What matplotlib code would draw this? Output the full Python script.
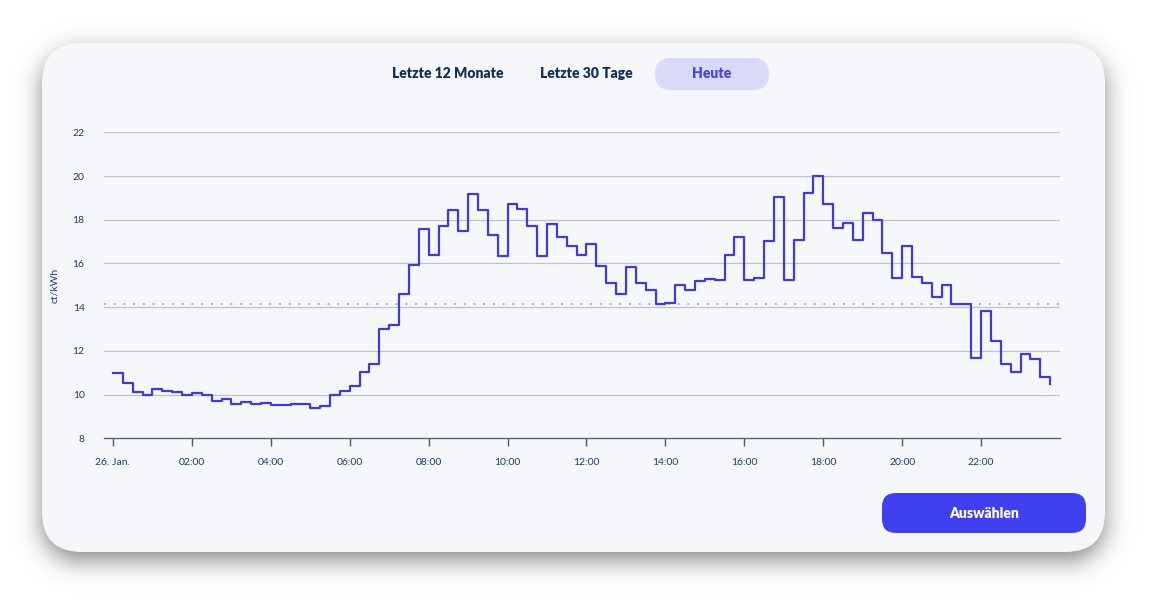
import matplotlib
matplotlib.use('Agg')
import matplotlib.pyplot as plt
from matplotlib.patches import FancyBboxPatch
import numpy as np

plt.rcParams['font.family'] = ['Lato', 'DejaVu Sans']

# 15-minute prices for the day (ct/kWh)
prices = [
    11.0, 10.55, 10.12, 9.97, 10.27, 10.17, 10.1, 10.0,
    10.09, 9.97, 9.69, 9.8, 9.56, 9.65, 9.59, 9.62,
    9.52, 9.52, 9.57, 9.57, 9.39, 9.46, 9.97, 10.17,
    10.4, 11.02, 11.39, 13.02, 13.2, 14.61, 15.94, 17.59,
    16.4, 17.73, 18.45, 17.49, 19.16, 18.45, 17.3, 16.32,
    18.7, 18.48, 17.73, 16.34, 17.79, 17.21, 16.8, 16.37,
    16.89, 15.89, 15.11, 14.6, 15.84, 15.11, 14.77, 14.13,
    14.19, 15.02, 14.77, 15.19, 15.29, 15.22, 16.39, 17.19,
    15.22, 15.32, 17.02, 19.04, 15.23, 17.06, 19.24, 20.02,
    18.74, 17.63, 17.87, 17.05, 18.3, 18.0, 16.48, 15.34,
    16.82, 15.37, 15.11, 14.47, 15.02, 14.15, 14.15, 11.68,
    13.84, 12.44, 11.4, 11.02, 11.84, 11.62, 10.79, 10.5,
]
hours = np.arange(len(prices)) * 0.25
average = 14.15

xtick_pos = [0, 2, 4, 6, 8, 10, 12, 14, 16, 18, 20, 22]
xtick_labels = ['26. Jan.', '02:00', '04:00', '06:00', '08:00', '10:00',
                '12:00', '14:00', '16:00', '18:00', '20:00', '22:00']
ytick_pos = [8, 10, 12, 14, 16, 18, 20, 22]
tabs = ['Letzte 12 Monate', 'Letzte 30 Tage', 'Heute']

W, H = 1158, 604
fig = plt.figure(figsize=(W / 100, H / 100), dpi=100)
fig.patch.set_facecolor('white')

# background layer in pixel coordinates (card, shadow, buttons)
bg = fig.add_axes([0, 0, 1, 1], zorder=0)
bg.set_xlim(0, W)
bg.set_ylim(H, 0)
bg.axis('off')

cx, cy, cw, ch, rad = 42, 43, 1063, 509, 40

# blurred drop shadow from a signed distance to the (offset) rounded rect
yy, xx = np.mgrid[0:H, 0:W] + 0.5
mx, my = cx + cw / 2, cy + ch / 2 + 9
qx = np.abs(xx - mx) - (cw / 2 - rad)
qy = np.abs(yy - my) - (ch / 2 - rad)
dist = (np.hypot(np.maximum(qx, 0), np.maximum(qy, 0))
        + np.minimum(np.maximum(qx, qy), 0) - rad)
shade = 0.45 / (1 + np.exp(1.702 * dist / 12.0))
rgba = np.zeros((H, W, 4))
rgba[..., 3] = shade
bg.imshow(rgba, extent=(0, W, H, 0), interpolation='bilinear', zorder=0)
bg.set_xlim(0, W)
bg.set_ylim(H, 0)

bg.add_patch(FancyBboxPatch((cx, cy), cw, ch,
                            boxstyle='round,pad=0,rounding_size=%d' % rad,
                            facecolor='#f6f7fb', edgecolor='none', zorder=1))

# tabs
bg.add_patch(FancyBboxPatch((655, 58), 114, 32,
                            boxstyle='round,pad=0,rounding_size=16',
                            facecolor='#d9dafa', edgecolor='none', zorder=2))
bg.text(448, 74, tabs[0], ha='center', va='center', fontsize=10,
        fontweight='heavy', color='#14305a', zorder=3)
bg.text(586, 74, tabs[1], ha='center', va='center', fontsize=10,
        fontweight='heavy', color='#14305a', zorder=3)
bg.text(712, 74, tabs[2], ha='center', va='center', fontsize=10,
        fontweight='heavy', color='#4b45d9', zorder=3)

# button
bg.add_patch(FancyBboxPatch((882, 493), 204, 40,
                            boxstyle='round,pad=0,rounding_size=14',
                            facecolor='#4040ef', edgecolor='none', zorder=2))
bg.text(984, 513, 'Auswählen', ha='center', va='center', fontsize=10,
        fontweight='heavy', color='white', zorder=3)

# chart
ax = fig.add_axes([104 / W, 1 - 438.3 / H, 956 / W, 306 / H], zorder=1)
ax.patch.set_alpha(0)
ax.step(hours, prices, where='post', color='#4338dc', lw=1.6, zorder=3)
ax.axhline(average, color='#a9a3ea', lw=1.4, ls=(0, (1, 4)), zorder=2)

ax.set_xlim(-0.228, 24.0)
ax.set_ylim(8, 22)
for y in ytick_pos[1:]:
    ax.axhline(y, color='#bfc2cc', lw=0.9, zorder=1)

ax.set_xticks(xtick_pos)
ax.set_xticklabels(xtick_labels)
ax.set_yticks(ytick_pos)
ax.tick_params(axis='x', length=6, width=1, color='#4a5670', pad=8,
               labelsize=7.5, labelcolor='#1f3b63')
ax.tick_params(axis='y', length=0, pad=14, labelsize=7.5, labelcolor='#1f3b63')
for s in ['top', 'right', 'left']:
    ax.spines[s].set_visible(False)
ax.spines['bottom'].set_color('#5a6478')
ax.spines['bottom'].set_linewidth(1)
ax.set_ylabel('ct/kWh', fontsize=7.5, color='#1f3b63', labelpad=10)

fig.savefig('out.png', dpi=100)
